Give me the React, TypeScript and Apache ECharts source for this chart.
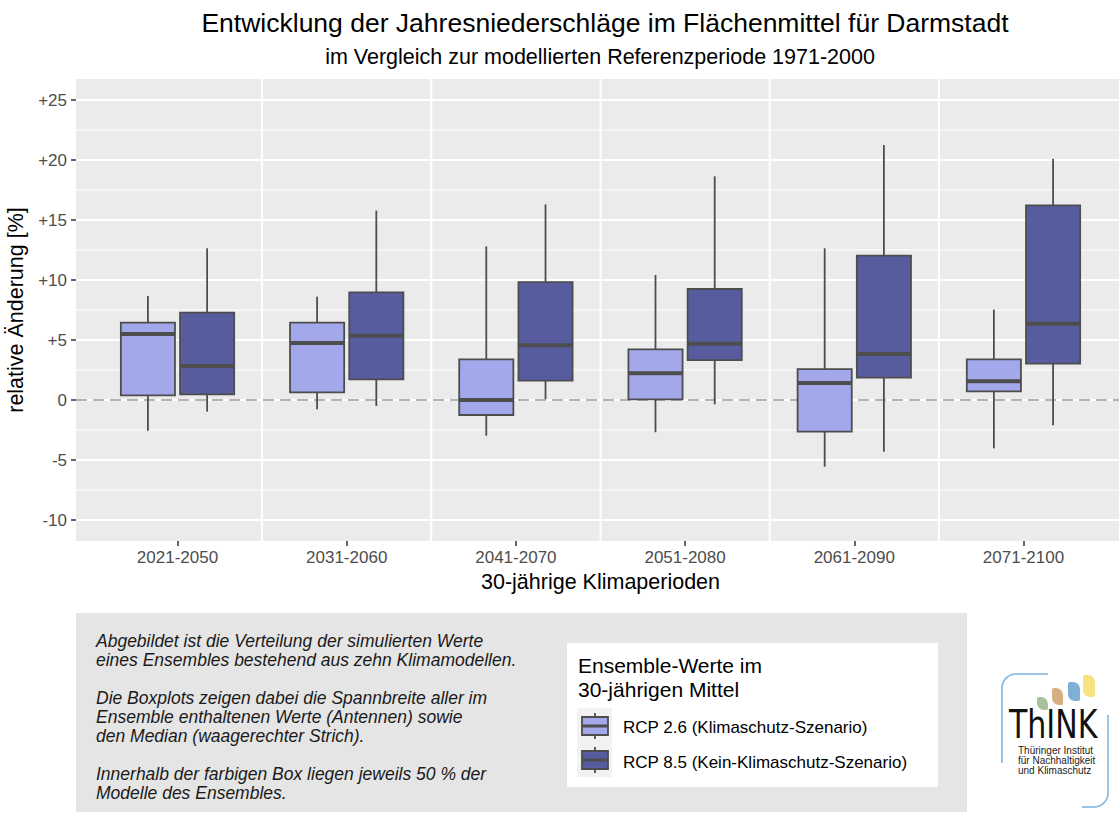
import React, { useEffect, useRef } from 'react';
import * as echarts from 'echarts';

// ---------- data ----------
const periods = ['2021-2050', '2031-2060', '2041-2070', '2051-2080', '2061-2090', '2071-2100'];
// [min, q1, median, q3, max] in % change
const rcp26 = [
  [-2.56, 0.39, 5.5, 6.44, 8.67],
  [-0.78, 0.64, 4.75, 6.44, 8.61],
  [-2.97, -1.25, 0.0, 3.39, 12.8],
  [-2.69, 0.06, 2.22, 4.22, 10.42],
  [-5.56, -2.64, 1.42, 2.58, 12.64],
  [-4.03, 0.72, 1.56, 3.39, 7.53],
];
const rcp85 = [
  [-0.97, 0.47, 2.83, 7.28, 12.64],
  [-0.5, 1.72, 5.36, 8.97, 15.78],
  [0.06, 1.61, 4.56, 9.83, 16.3],
  [-0.36, 3.33, 4.69, 9.25, 18.64],
  [-4.31, 1.86, 3.83, 12.03, 21.25],
  [-2.11, 3.03, 6.36, 16.22, 20.11],
];
const yMajorTicks = [-10, -5, 0, 5, 10, 15, 20, 25];
const yMinorTicks = [-7.5, -2.5, 2.5, 7.5, 12.5, 17.5, 22.5];
const xTicks = [1, 2, 3, 4, 5, 6];
const xBoundaries = [1.5, 2.5, 3.5, 4.5, 5.5];
const referenceLine = [0];

const legendLabels = ['RCP 2.6 (Klimaschutz-Szenario)', 'RCP 8.5 (Kein-Klimaschutz-Szenario)'];
const infoText =
  'Abgebildet ist die Verteilung der simulierten Werte\n' +
  'eines Ensembles bestehend aus zehn Klimamodellen.\n\n' +
  'Die Boxplots zeigen dabei die Spannbreite aller im\n' +
  'Ensemble enthaltenen Werte (Antennen) sowie\n' +
  'den Median (waagerechter Strich).\n\n' +
  'Innerhalb der farbigen Box liegen jeweils 50 % der\n' +
  'Modelle des Ensembles.';

// ---------- style ----------
const FONT = '"Liberation Sans", Arial, sans-serif';
const LIGHT = '#A3A8EB';
const DARK = '#575C9F';
const OUTLINE = '#4D4D4D';
const BOX_W = 0.32;
const DODGE = 0.175;

function boxSeries(name: string, data: number[][], offset: number, color: string) {
  return {
    type: 'custom',
    name,
    z: 5,
    silent: true,
    data: data.map((d, i) => [xTicks[i], ...d]),
    encode: { x: 0, y: [1, 2, 3, 4, 5] },
    renderItem: (params: any, api: any) => {
      const xc = api.value(0) + offset;
      const pMin = api.coord([xc, api.value(1)]);
      const pQ1 = api.coord([xc, api.value(2)]);
      const pMed = api.coord([xc, api.value(3)]);
      const pQ3 = api.coord([xc, api.value(4)]);
      const pMax = api.coord([xc, api.value(5)]);
      const left = api.coord([xc - BOX_W / 2, 0])[0];
      const right = api.coord([xc + BOX_W / 2, 0])[0];
      const ls = { stroke: OUTLINE, lineWidth: 1.8 };
      return {
        type: 'group',
        children: [
          { type: 'line', shape: { x1: pMin[0], y1: pMin[1], x2: pQ1[0], y2: pQ1[1] }, style: ls },
          { type: 'line', shape: { x1: pQ3[0], y1: pQ3[1], x2: pMax[0], y2: pMax[1] }, style: ls },
          {
            type: 'rect',
            shape: { x: left, y: pQ3[1], width: right - left, height: pQ1[1] - pQ3[1] },
            style: { fill: color, stroke: OUTLINE, lineWidth: 1.8 },
          },
          { type: 'line', shape: { x1: left, y1: pMed[1], x2: right, y2: pMed[1] }, style: { stroke: OUTLINE, lineWidth: 4 } },
        ],
      };
    },
  };
}

function hLines(values: number[], width: number, z: number, stroke: string, dash?: number[]) {
  return {
    type: 'custom',
    z,
    silent: true,
    data: values.map((v) => [1, v]),
    renderItem: (params: any, api: any) => {
      const cs = params.coordSys;
      const p = api.coord([1, api.value(1)]);
      return {
        type: 'line',
        shape: { x1: cs.x, y1: p[1], x2: cs.x + cs.width, y2: p[1] },
        style: { stroke, lineWidth: width, lineDash: dash || null },
      };
    },
  };
}

function vLines(values: number[], width: number, z: number) {
  return {
    type: 'custom',
    z,
    silent: true,
    data: values.map((v) => [v, 0]),
    renderItem: (params: any, api: any) => {
      const cs = params.coordSys;
      const p = api.coord([api.value(0), 0]);
      return {
        type: 'line',
        shape: { x1: p[0], y1: cs.y, x2: p[0], y2: cs.y + cs.height },
        style: { stroke: '#FFFFFF', lineWidth: width },
      };
    },
  };
}

function txt(x: number, y: number, text: string, size: number, opts: any = {}) {
  return {
    type: 'text',
    x,
    y,
    scaleX: opts.scaleX || 1,
    style: {
      text,
      fontSize: size,
      fontFamily: opts.family || FONT,
      fontStyle: opts.italic ? 'italic' : 'normal',
      fill: opts.fill || '#000000',
      align: opts.align || 'left',
      verticalAlign: opts.valign || 'middle',
      lineHeight: opts.lineHeight,
    },
    silent: true,
  };
}

function legendGlyph(y0: number, color: string) {
  const cx = 595;
  return [
    { type: 'line', shape: { x1: cx, y1: y0 - 13, x2: cx, y2: y0 + 13 }, style: { stroke: OUTLINE, lineWidth: 1.8 } },
    { type: 'rect', shape: { x: 582, y: y0 - 9, width: 26, height: 18 }, style: { fill: color, stroke: OUTLINE, lineWidth: 1.8 } },
    { type: 'line', shape: { x1: 582, y1: y0, x2: 608, y2: y0 }, style: { stroke: OUTLINE, lineWidth: 3 } },
  ];
}

const App: React.FC = () => {
  const ref = useRef<HTMLDivElement>(null);

  useEffect(() => {
    if (!ref.current) return;
    const chart = echarts.init(ref.current, undefined, { renderer: 'svg' });
    const option: any = {
      animation: false,
      backgroundColor: '#FFFFFF',
      textStyle: { fontFamily: FONT },
      grid: {
        left: 76,
        top: 79,
        width: 1049,
        height: 462,
        show: true,
        backgroundColor: '#EBEBEB',
        borderWidth: 0,
        outerBoundsMode: 'none',
        containLabel: false,
      },
      xAxis: {
        type: 'value',
        min: 0.4,
        max: 6.6,
        position: 'bottom',
        axisLine: { show: false, onZero: false },
        splitLine: { show: false },
        axisTick: { show: true, customValues: xTicks, length: 5, lineStyle: { color: '#333333', width: 1.5 } },
        axisLabel: {
          customValues: xTicks,
          formatter: (v: number) => periods[Math.round(v) - 1] || '',
          color: '#4D4D4D',
          fontSize: 17,
          fontFamily: FONT,
          margin: 8,
        },
        name: '30-jährige Klimaperioden',
        nameLocation: 'middle',
        nameGap: 28,
        nameTextStyle: { fontSize: 21.5, color: '#000000', fontFamily: FONT },
      },
      yAxis: {
        type: 'value',
        min: -11.75,
        max: 26.75,
        position: 'left',
        axisLine: { show: false, onZero: false },
        splitLine: { show: false },
        axisTick: { show: true, customValues: yMajorTicks, length: 5, lineStyle: { color: '#333333', width: 1.5 } },
        axisLabel: {
          customValues: yMajorTicks,
          formatter: (v: number) => (v > 0 ? '+' + v : String(v)),
          color: '#4D4D4D',
          fontSize: 17,
          fontFamily: FONT,
          margin: 9,
        },
        name: 'relative Änderung [%]',
        nameLocation: 'middle',
        nameGap: 46,
        nameTextStyle: { fontSize: 21.5, color: '#000000', fontFamily: FONT },
      },
      series: [
        hLines(yMinorTicks, 1, 1, '#FFFFFF'),
        hLines(yMajorTicks, 2, 1, '#FFFFFF'),
        vLines(xBoundaries, 2, 1),
        hLines(referenceLine, 1.6, 2, '#9A9A9A', [11, 6]),
        boxSeries(legendLabels[0], rcp26, -DODGE, LIGHT),
        boxSeries(legendLabels[1], rcp85, DODGE, DARK),
      ],
      graphic: [
        txt(605, 23, 'Entwicklung der Jahresniederschläge im Flächenmittel für Darmstadt', 26.5, { align: 'center' }),
        txt(600, 57, 'im Vergleich zur modellierten Referenzperiode 1971-2000', 21.5, { align: 'center' }),
        // info panel
        { type: 'rect', shape: { x: 76, y: 613, width: 891, height: 199 }, style: { fill: '#E5E5E5' }, silent: true },
        txt(96, 631.5, infoText, 17.5, { italic: true, valign: 'top', lineHeight: 19, fill: '#1A1A1A' }),
        // legend
        { type: 'rect', shape: { x: 567, y: 643, width: 371, height: 144 }, style: { fill: '#FFFFFF' }, silent: true },
        txt(578, 653, 'Ensemble-Werte im\n30-jährigen Mittel', 21, { valign: 'top', lineHeight: 24 }),
        { type: 'rect', shape: { x: 577, y: 708, width: 35, height: 69 }, style: { fill: '#F2F2F2' }, silent: true },
        ...legendGlyph(726, LIGHT),
        ...legendGlyph(760, DARK),
        txt(623, 727, legendLabels[0], 17),
        txt(623, 762, legendLabels[1], 17),
        // logo
        { type: 'line', shape: { x1: 1002, y1: 763, x2: 1002, y2: 688 }, style: { stroke: '#86B6E0', lineWidth: 1.6 } },
        { type: 'arc', shape: { cx: 1016, cy: 688, r: 14, startAngle: Math.PI, endAngle: Math.PI * 1.5 }, style: { stroke: '#86B6E0', lineWidth: 1.6, fill: null } },
        { type: 'line', shape: { x1: 1016, y1: 674, x2: 1048, y2: 674 }, style: { stroke: '#86B6E0', lineWidth: 1.6 } },
        { type: 'line', shape: { x1: 1108, y1: 715, x2: 1108, y2: 793 }, style: { stroke: '#86B6E0', lineWidth: 1.6 } },
        { type: 'arc', shape: { cx: 1094, cy: 793, r: 14, startAngle: 0, endAngle: Math.PI * 0.5 }, style: { stroke: '#86B6E0', lineWidth: 1.6, fill: null } },
        { type: 'line', shape: { x1: 1094, y1: 807, x2: 1082, y2: 807 }, style: { stroke: '#86B6E0', lineWidth: 1.6 } },
        { type: 'rect', shape: { x: 1037, y: 697, width: 11, height: 13, r: [2, 7, 2, 7] }, style: { fill: '#A7C29A' } },
        { type: 'rect', shape: { x: 1052, y: 688, width: 11, height: 17, r: [2, 7, 2, 7] }, style: { fill: '#D7AE7E' } },
        { type: 'rect', shape: { x: 1068, y: 682, width: 12, height: 19, r: [2, 7, 2, 7] }, style: { fill: '#7EAFD6' } },
        { type: 'rect', shape: { x: 1083, y: 675, width: 12, height: 22, r: [2, 7, 2, 7] }, style: { fill: '#F6E27F' } },
        txt(1009, 725, 'ThINK', 39, { scaleX: 0.77, family: '"DejaVu Sans", sans-serif', fill: '#111111' }),
        txt(1018, 750, 'Thüringer Institut', 10, { fill: '#222222' }),
        txt(1018, 760, 'für Nachhaltigkeit', 10, { fill: '#222222' }),
        txt(1018, 770, 'und Klimaschutz', 10, { fill: '#222222' }),
      ],
    };
    chart.setOption(option);
    return () => chart.dispose();
  }, []);

  return (
    <div
      ref={ref}
      style={{ position: 'absolute', left: 0, top: 0, width: 1119, height: 814, overflow: 'hidden' }}
    />
  );
};

export default App;
